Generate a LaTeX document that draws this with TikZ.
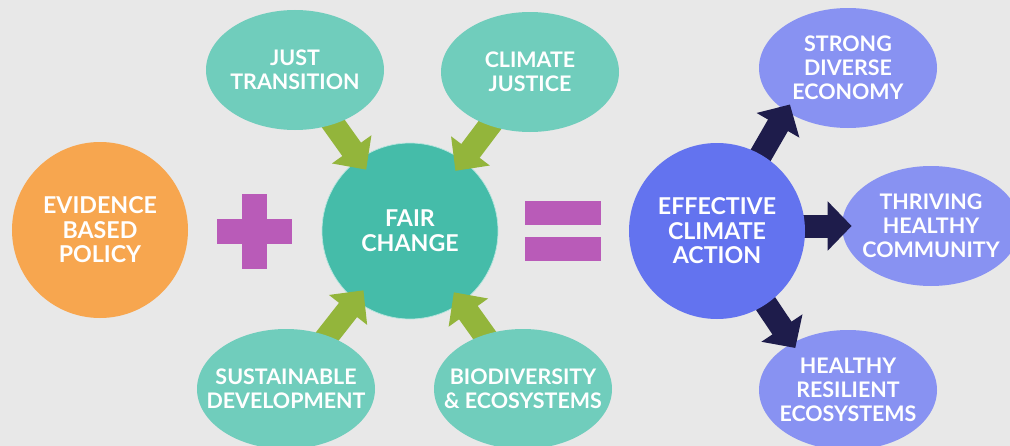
\documentclass[tikz,border=0pt]{standalone}
\usepackage{fontspec}
\setmainfont{Lato}
\usepackage{xcolor}
\usetikzlibrary{shapes.geometric,arrows.meta,positioning}

\definecolor{bggray}{HTML}{E8E8E8}
\definecolor{policyorange}{HTML}{F7A64F}
\definecolor{signpink}{HTML}{B95BB8}
\definecolor{tealdeep}{HTML}{45BCA9}
\definecolor{tealsoft}{HTML}{70CDBC}
\definecolor{bluedeep}{HTML}{6373EF}
\definecolor{bluesoft}{HTML}{8892F2}
\definecolor{arrowgreen}{HTML}{93B53B}
\definecolor{arrownavy}{HTML}{1E1C4B}

\pgfdeclarelayer{back}
\pgfdeclarelayer{mid}
\pgfsetlayers{back,mid,main}

\begin{document}
\begin{tikzpicture}[
    big_circle/.style={circle, minimum size=3.52cm, inner sep=0pt, text=white, align=center, font=\fontsize{13.2}{14}\selectfont\bfseries},
    topic_ellipse/.style={ellipse, fill=tealsoft, minimum width=3.56cm, minimum height=2.4cm, inner xsep=-1cm, inner ysep=0pt, text=white, align=center, font=\fontsize{12.2}{13.7}\selectfont\bfseries},
    goal_ellipse/.style={topic_ellipse, fill=bluesoft},
    green_arrow/.style={line width=0.46cm, draw=arrowgreen, -{Triangle[length=0.5cm, width=0.94cm]}},
    navy_arrow/.style={line width=0.46cm, draw=arrownavy, -{Triangle[length=0.48cm, width=0.96cm]}},
    sign_bar/.style={fill=signpink}
]
\useasboundingbox (0,0) rectangle (20.2,-8.92);

\begin{pgfonlayer}{back}
% Background
\fill[bggray] (0,0) rectangle (20.2,-8.92);

% Centre: Fair change (under the green arrows)
\node[big_circle, fill=tealdeep, draw=white!60!tealdeep, line width=0.4pt] (fair) at (8.2,-4.62) {FAIR\\CHANGE};

% Right: outcomes (under the navy arrow heads)
\node[goal_ellipse] (strong) at (16.96,-1.36) {STRONG\\DIVERSE\\ECONOMY};
\node[goal_ellipse] (thr) at (18.62,-4.52) {THRIVING\\HEALTHY\\COMMUNITY};
\node[goal_ellipse] (hre) at (16.96,-7.8) {HEALTHY\\RESILIENT\\ECOSYSTEMS};
\end{pgfonlayer}

% Left: policy
\node[big_circle, fill=policyorange] (ebp) at (2.0,-4.6) {EVIDENCE\\BASED\\POLICY};

% Plus sign
\fill[sign_bar] (4.34,-4.37) rectangle (5.84,-4.87);
\fill[sign_bar] (4.84,-3.87) rectangle (5.34,-5.37);

% Equals sign
\fill[sign_bar] (10.5,-4.02) rectangle (12.02,-4.5);
\fill[sign_bar] (10.5,-4.74) rectangle (12.02,-5.22);

% Right: action
\node[big_circle, fill=bluedeep] (eff) at (14.34,-4.62) {EFFECTIVE\\CLIMATE\\ACTION};

% Four principles round fair change
\node[topic_ellipse] (jt) at (5.9,-1.4) {JUST\\TRANSITION};
\node[topic_ellipse] (cj) at (10.6,-1.44) {CLIMATE\\JUSTICE};
\node[topic_ellipse] (sd) at (5.72,-7.78) {SUSTAINABLE\\DEVELOPMENT};
\node[topic_ellipse] (bio) at (10.46,-7.78) {BIODIVERSITY\\\& ECOSYSTEMS};

\begin{pgfonlayer}{mid}
% Flow: principles into fair change
\draw[green_arrow, shorten >=-0.26cm] (jt.center) -- (fair);
\draw[green_arrow, shorten >=-0.26cm] (cj.center) -- (fair);
\draw[green_arrow, shorten >=-0.26cm] (sd.center) -- (fair);
\draw[green_arrow, shorten >=-0.26cm] (bio.center) -- (fair);

% Flow: action out to outcomes
\draw[navy_arrow, shorten >=-0.16cm] (eff.center) -- (strong.215);
\draw[navy_arrow, shorten >=-0.2cm] (eff.center |- thr.west) -- (thr.west);
\draw[navy_arrow, shorten >=-0.12cm] (eff.center) -- (hre.140);
\end{pgfonlayer}

\end{tikzpicture}
\end{document}
